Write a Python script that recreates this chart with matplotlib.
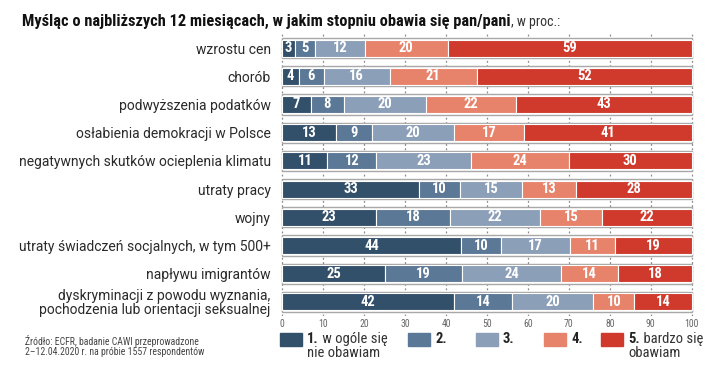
import numpy as np
import matplotlib.pyplot as plt
from matplotlib.patches import Rectangle

plt.rcParams['font.family'] = ['Roboto Condensed', 'Roboto', 'DejaVu Sans']

# data
categories = ['wzrostu cen', 'chorób', 'podwyższenia podatków',
              'osłabienia demokracji w Polsce',
              'negatywnych skutków ocieplenia klimatu', 'utraty pracy', 'wojny',
              'utraty świadczeń socjalnych, w tym 500+', 'napływu imigrantów',
              'dyskryminacji z powodu wyznania,\npochodzenia lub orientacji seksualnej']
s1 = [3, 4, 7, 13, 11, 33, 23, 44, 25, 42]
s2 = [5, 6, 8, 9, 12, 10, 18, 10, 19, 14]
s3 = [12, 16, 20, 20, 23, 15, 22, 17, 24, 20]
s4 = [20, 21, 22, 17, 24, 13, 15, 11, 14, 10]
s5 = [59, 52, 43, 41, 30, 28, 22, 19, 18, 14]
series = [s1, s2, s3, s4, s5]
legend_bold = ['1.', '2.', '3.', '4.', '5.']
legend_rest = [' w ogóle się\nnie obawiam', '', '', '', ' bardzo się\nobawiam']
colors = ['#33506b', '#5b7896', '#8c9fb8', '#e8836b', '#d03a2d']
xticks = list(range(0, 101, 10))

fig = plt.figure(figsize=(7.2, 3.86), dpi=100)
ax = fig.add_axes([279/720, 1-316/386, 416/720, 282/386])

y = np.arange(len(categories))
h = 0.6
data = np.array(series, dtype=float)
scaled = data / data.sum(axis=0) * 100  # bars fill the full 0-100 frame

for xv in xticks:
    ax.axvline(xv, color='#8a8a8a', lw=0.9, ls=(0, (1.5, 2)), zorder=0)

ax.barh(y, 100, left=0, height=h+0.12, color='white', edgecolor='#a8a8a8',
        lw=1.0, zorder=1)
left = np.zeros(len(categories))
for vals, w, c in zip(data, scaled, colors):
    ax.barh(y, w, left=left, height=h, color=c, edgecolor='white', lw=0.8, zorder=2)
    for yi, l, v, ww in zip(y, left, vals, w):
        ax.text(l + ww/2, yi, str(int(v)), ha='center', va='center', color='white',
                fontsize=10.5, fontweight='bold', zorder=3)
    left += w

ax.set_xlim(-0.8, 100.8)
ax.set_ylim(len(categories)-0.5, -0.5)
ax.set_yticks(y)
ax.set_yticklabels(categories, fontsize=10, color='#2a2a2a', linespacing=0.95,
                   family=['Roboto', 'DejaVu Sans'])
ax.set_xticks(xticks)
ax.set_xticklabels([str(t) for t in xticks], fontsize=7, color='#666666')
ax.tick_params(axis='both', length=0, pad=2)
ax.tick_params(axis='y', pad=6)
for s in ax.spines.values():
    s.set_visible(False)

# title
t1 = fig.text(22/720, 1-21/386, 'Myśląc o najbliższych 12 miesiącach, w jakim stopniu obawia się pan/pani',
              fontsize=11.8, fontweight='bold', va='center', ha='left', color='#111111')
fig.canvas.draw()
bb = t1.get_window_extent()
fig.text(bb.x1/720, 1-22/386, ', w proc.:', fontsize=10, va='center', ha='left', color='#333333')

# source
fig.text(25/720, 1-346/386, 'Źródło: ECFR, badanie CAWI przeprowadzone\n2–12.04.2020 r. na próbie 1557 respondentów',
         fontsize=7, color='#444444', va='center', linespacing=1.05)

# legend
lx = [280, 408, 476, 544, 601]
for x0, c, b, r in zip(lx, colors, legend_bold, legend_rest):
    fig.patches.append(Rectangle((x0/720, 1-346/386), 22/720, 13/386, color=c,
                                 transform=fig.transFigure))
    tb = fig.text((x0+27)/720, 1-339/386, b, fontsize=10.5, fontweight='bold',
                  va='center', ha='left', color='#222222')
    if r:
        fig.canvas.draw()
        e = tb.get_window_extent()
        fig.text(e.x1/720, 1-339/386, r.split('\n')[0], fontsize=10.5, va='center', ha='left', color='#333333')
        fig.text((x0+27)/720, 1-353/386, r.split('\n')[1], fontsize=10.5, va='center', ha='left', color='#333333')

fig.savefig('out.png', dpi=100)
